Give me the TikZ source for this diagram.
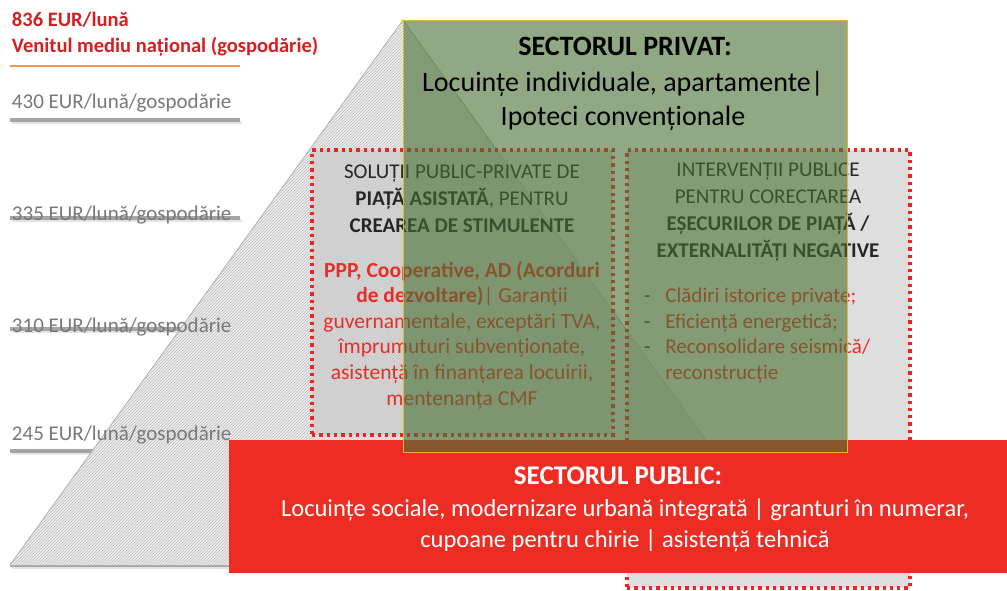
\documentclass[tikz,border=0pt]{standalone}
\usepackage{fontspec}
\setmainfont{Carlito}
\usetikzlibrary{patterns}
\definecolor{pubred}{RGB}{237,45,36}
\definecolor{dotred}{RGB}{238,35,35}
\definecolor{txtred}{RGB}{232,45,40}
\definecolor{titlered}{RGB}{215,30,30}
\definecolor{labgray}{RGB}{120,120,120}
\definecolor{linegray}{RGB}{165,165,165}
\definecolor{privgreen}{RGB}{70,112,50}
\definecolor{boxgray}{RGB}{200,200,200}
\definecolor{orangeline}{RGB}{247,150,70}
\definecolor{greenedge}{RGB}{225,180,60}
\definecolor{pyrgray}{RGB}{238,238,238}
\definecolor{hatchgray}{RGB}{188,188,188}
\tikzset{
  lvlline/.style={line width=3.5pt, draw=linegray},
  lvlshadow/.style={line width=2.5pt, draw=black!10},
  lvllabel/.style={anchor=west, text=labgray, font=\fontsize{21}{24}\selectfont},
  toplabel/.style={anchor=west, text=titlered, font=\fontsize{20.5}{24}\selectfont\bfseries},
  dotbox/.style={draw=dotred, line width=3.3pt, dash pattern=on 3.3pt off 4pt, fill=boxgray, fill opacity=0.6},
  boxhead/.style={align=center, text=black!85, font=\fontsize{21}{27}\selectfont},
  boxbody/.style={align=center, text=txtred, font=\fontsize{21.5}{25.6}\selectfont},
  privtext/.style={align=center, text=black, font=\fontsize{28}{34}\selectfont},
  pubtext/.style={align=center, text=white, font=\fontsize{24.5}{31}\selectfont},
}
\begin{document}
\begin{tikzpicture}[x=1pt,y=-1pt, every node/.style={inner sep=0pt, outer sep=0pt}]
\useasboundingbox (0,0) rectangle (1007,590);
% level lines
\foreach \yy in {120,218,329,451}{
  \draw[lvlshadow] (12,\yy+2.5) -- (242,\yy+2.5);
  \draw[lvlline] (10,\yy) -- (240,\yy);
}
\draw[lvlshadow] (12,567.5) -- (800,567.5);
\draw[lvlline] (10,565) -- (798,565);
\draw[orangeline, line width=2pt] (10,66) -- (240,66);
% pyramid
\coordinate (apex) at (403,20);
\coordinate (bl) at (10,565);
\coordinate (br) at (796,565);
\path[preaction={fill=pyrgray}, pattern=north east lines, pattern color=hatchgray] (apex) -- (br) -- (bl) -- cycle;
\draw[black!30, line width=0.8pt] (bl) -- (apex) -- (br);
% labels
\node[toplabel] (inc) at (12,20) {836 EUR/lună};
\node[toplabel] (incd) at (12,47) {Venitul mediu național (gospodărie)};
\node[lvllabel] (l430) at (12,103) {430 EUR/lună/gospodărie};
\node[lvllabel] (l335) at (12,215) {335 EUR/lună/gospodărie};
\node[lvllabel] (l310) at (12,327) {310 EUR/lună/gospodărie};
\node[lvllabel] (l245) at (12,435) {245 EUR/lună/gospodărie};
% dotted boxes
\node[dotbox, minimum width=301pt, minimum height=285pt] (lbox) at (462.5,292.5) {};
\node[dotbox, minimum width=283pt, minimum height=438pt] (rbox) at (768.5,369) {};
\node[boxhead] (lhead) at (462,199) {SOLUȚII PUBLIC-PRIVATE DE\\\textbf{PIAȚĂ ASISTATĂ}, PENTRU\\\textbf{CREAREA DE STIMULENTE}};
\node[boxbody] (lbody) at (462,335) {\textbf{PPP, Cooperative, AD (Acorduri}\\\textbf{de dezvoltare)}| Garanții\\guvernamentale, exceptări TVA,\\împrumuturi subvenționate,\\asistență în finanțarea locuirii,\\mentenanța CMF};
\node[boxhead] (rhead) at (768,212.5) {INTERVENȚII PUBLICE\\PENTRU CORECTAREA\\\textbf{EȘECURILOR DE PIAȚĂ /}\\\textbf{EXTERNALITĂȚI NEGATIVE}};
\node[anchor=west, font=\fontsize{21}{25.5}\selectfont] (rlist) at (644,336) {\begin{tabular}{@{}l@{\hspace{15pt}}l@{}}
\textcolor{black!80}{-} & \textcolor{txtred}{Clădiri istorice private;}\\
\textcolor{black!80}{-} & \textcolor{txtred}{Eficiență energetică;}\\
\textcolor{black!80}{-} & \textcolor{txtred}{Reconsolidare seismică/}\\
 & \textcolor{txtred}{reconstrucție}
\end{tabular}};
% public sector
\node[fill=pubred, minimum width=778pt, minimum height=133pt] (pub) at (618,506.5) {};
\node[text=white, font=\fontsize{27}{30}\selectfont\bfseries] (pubtitle) at (618,476) {SECTORUL PUBLIC:};
\node[pubtext] (pubbody) at (625,525.5) {Locuințe sociale, modernizare urbană integrată | granturi în numerar,\\cupoane pentru chirie | asistență tehnică};
% private sector
\node[fill=privgreen, fill opacity=0.6, draw=greenedge, line width=1pt, minimum width=444pt, minimum height=432pt] (priv) at (625,236) {};
\node[text=black, font=\fontsize{28}{32}\selectfont\bfseries] (privtitle) at (625,46) {SECTORUL PRIVAT:};
\node[privtext] (privbody) at (623,100.5) {Locuințe individuale, apartamente|\\Ipoteci convenționale};
\end{tikzpicture}
\end{document}
